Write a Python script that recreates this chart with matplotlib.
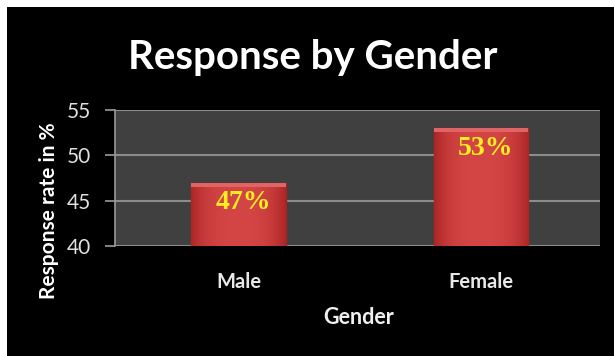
import numpy as np
import matplotlib
matplotlib.use("Agg")
import matplotlib.pyplot as plt
from matplotlib.patches import Rectangle

# データ
categories = ["Male", "Female"]
rates = [47, 53]
labels = ["47%", "53%"]
yticks = [40, 45, 50, 55]
YMIN, YMAX = 40, 55

W, H = 614, 356
fig = plt.figure(figsize=(W / 100, H / 100), dpi=100, facecolor="white")

# 黒い背景 (上に少し白い帯が残る)
fig.patches.append(Rectangle((7 / W, 0), 1 - 7 / W, (H - 7) / H,
                             transform=fig.transFigure, facecolor="black",
                             edgecolor="none", zorder=-10))

ax = fig.add_axes([115 / W, 1 - 246 / H, (600 - 115) / W, (246 - 110) / H])
ax.set_zorder(1)
ax.set_facecolor("#404040")

x = np.arange(len(categories))
bars = ax.bar(x, rates, width=0.39, color="#c63a3a", edgecolor="#9e2424",
              linewidth=1.0, zorder=3)

# 棒にグラデーションをかける (横方向に端が暗い + 上端が明るい)
nx, ny = 60, 80
u = np.linspace(-1, 1, nx)
uu = np.tile(u, (ny, 1))
light = np.array([0.83, 0.27, 0.27])
dark = np.array([0.68, 0.15, 0.15])
t = (np.abs(uu) ** 3)[..., None]
img = light * (1 - t) + dark * t
for b in bars:
    x0 = b.get_x()
    top = b.get_height()
    im = ax.imshow(img, extent=(x0, x0 + b.get_width(), YMIN, top),
                   origin="lower", aspect="auto", zorder=3.5,
                   interpolation="bilinear")
    im.set_clip_path(b)
    # 上端の明るい縁
    ax.bar(b.get_x() + b.get_width() / 2, 0.45, bottom=top - 0.45,
           width=b.get_width(), color="#df6464", linewidth=0, zorder=3.6)

# 棒の上に値
for b, lab in zip(bars, labels):
    ax.annotate(lab, (b.get_x() + b.get_width() / 2 + 0.02, b.get_height()),
                xytext=(0, -20), textcoords="offset pixels",
                ha="center", va="center", color="#ffee22",
                fontsize=20, fontweight="bold", family="Liberation Serif",
                zorder=4)

ax.set_xlim(-0.51, 1.49)
ax.set_ylim(YMIN, YMAX)
ax.set_yticks(yticks)
ax.set_xticks(x)
ax.set_xticklabels(categories)
ax.yaxis.grid(True, color="#8c8c8c", linewidth=1.5, zorder=1)
ax.set_axisbelow(True)

for s in ["top", "right", "bottom"]:
    ax.spines[s].set_visible(False)
ax.spines["left"].set_color("#9a9a9a")
ax.spines["left"].set_linewidth(1.2)

ax.tick_params(axis="y", colors="#9a9a9a", length=7, width=1.2, pad=10,
               labelcolor="#e0e0e0", labelsize=15)
ax.tick_params(axis="x", length=0, pad=19, labelcolor="#e8e8e8", labelsize=14.5)
for t in ax.get_xticklabels() + ax.get_yticklabels():
    t.set_family("Lato")
for t in ax.get_xticklabels():
    t.set_fontweight("bold")

ax.set_xlabel("Gender", color="#f0f0f0", fontsize=15.5, family="Lato",
              fontweight="bold")
ax.xaxis.set_label_coords((359 - 115) / 485, (246 - 317) / 136)
ax.xaxis.label.set_va("center")
ax.set_ylabel("Response rate in %", color="white", fontsize=15,
              family="Lato", fontweight="bold")
ax.yaxis.set_label_coords((49 - 115) / 485, (246 - 211) / 136)
ax.yaxis.label.set_va("center")

fig.text(313 / W, 1 - 57 / H, "Response by Gender", ha="center", va="center",
         color="white", fontsize=29, fontweight="bold", family="Lato")

fig.savefig("out.png", dpi=100, facecolor=fig.get_facecolor())
